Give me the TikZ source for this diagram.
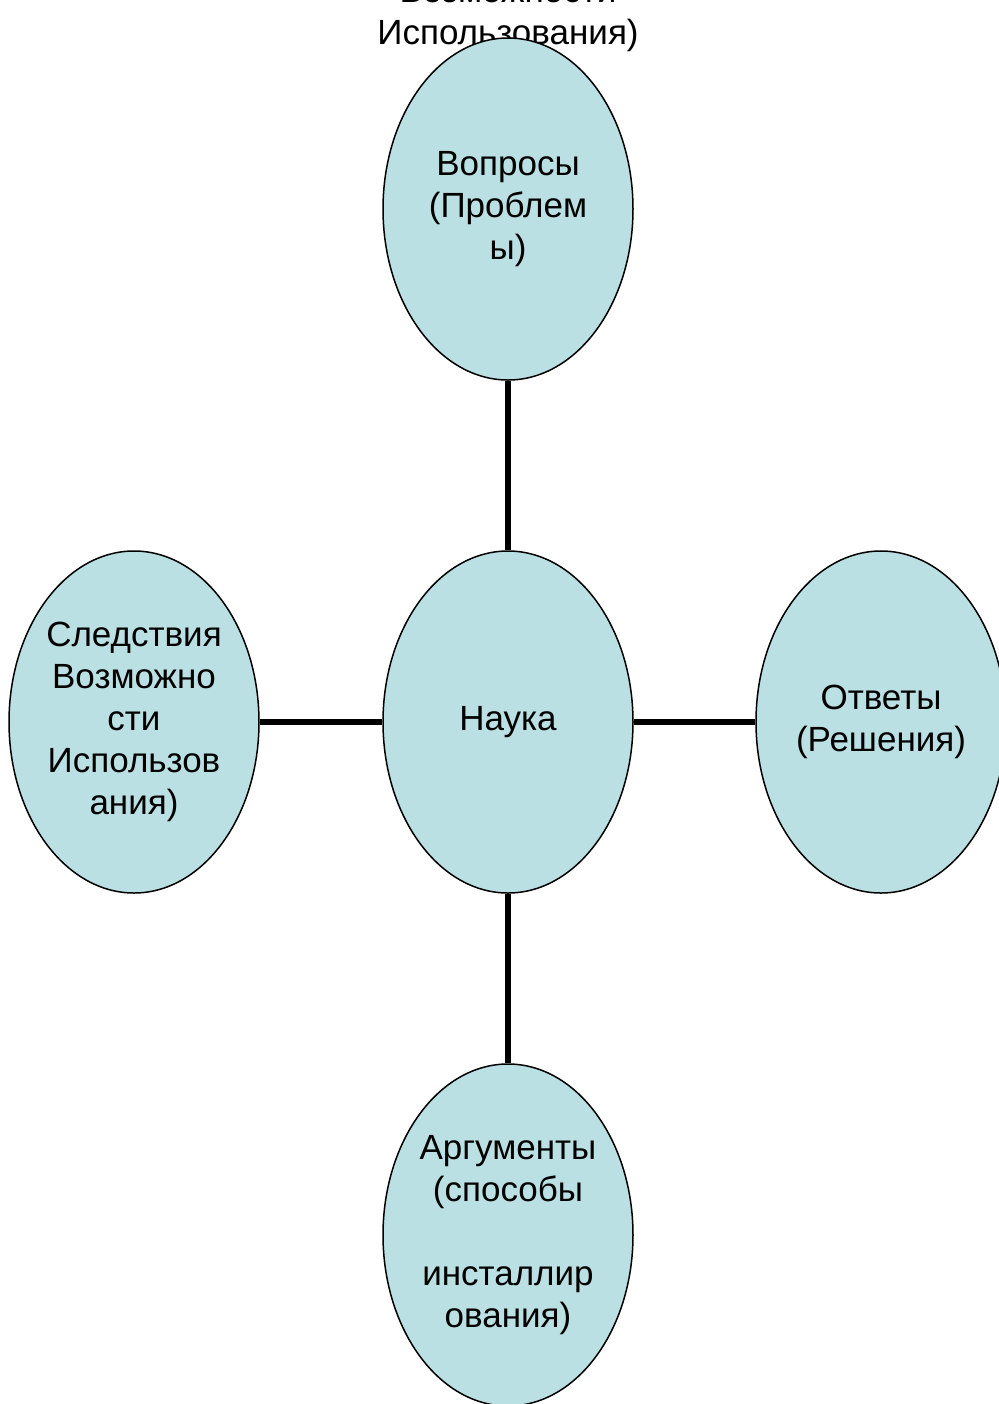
\documentclass[tikz,border=0pt]{standalone}
\usepackage{fontspec}
\setmainfont{Liberation Sans}
\usetikzlibrary{shapes.geometric}

\definecolor{bubble}{HTML}{BBE0E3}

\tikzset{
    bubble/.style={ellipse, draw=black, line width=0.75pt, fill=bubble,
        minimum width=125pt, minimum height=171pt, inner sep=0pt,
        align=center, font=\fontsize{17.5}{21}\selectfont},
    link/.style={line width=2.75pt}
}

\begin{document}
\begin{tikzpicture}[x=0.5pt, y=-0.5pt]
    \useasboundingbox (0,0) rectangle (999,1404);

    % Text cut at the top.
    \node[align=center, font=\fontsize{17.5}{21}\selectfont] (cut) at (508,15)
        {Возможности\\Использования)};

    % Bubbles.
    \node[bubble] (nauka)  at (508 ,722)  {Наука};
    \node[bubble] (vopros) at (508 ,209)  {Вопросы\\(Проблем\\ы)};
    \node[bubble] (sled)   at (134 ,722)  {Следствия\\Возможно\\сти\\Использов\\ания)};
    \node[bubble] (otvet)  at (881 ,722)  {Ответы\\(Решения)};
    \node[bubble] (argum)  at (508 ,1235) {Аргументы\\(способы\\\\инсталлир\\ования)};

    % Links to the centre.
    \draw [link] (vopros.south) -- (nauka.north);
    \draw [link] (sled.east)    -- (nauka.west);
    \draw [link] (nauka.east)   -- (otvet.west);
    \draw [link] (nauka.south)  -- (argum.north);

\end{tikzpicture}
\end{document}
